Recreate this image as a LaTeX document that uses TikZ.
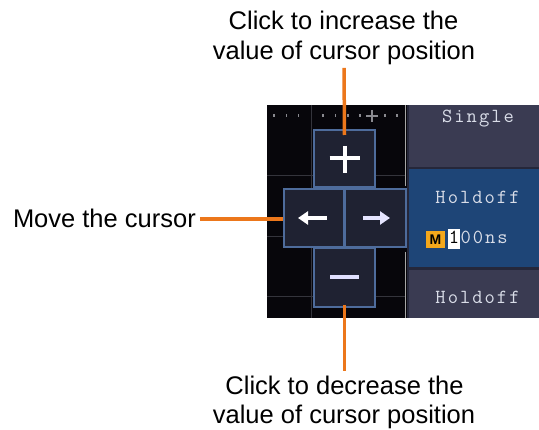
\documentclass[tikz,border=0pt]{standalone}
\usepackage{fontspec}
\setmainfont{Liberation Sans}
\usetikzlibrary{arrows.meta}
\definecolor{orng}{HTML}{EC771B}
\definecolor{scrblack}{HTML}{07060B}
\definecolor{btnfill}{HTML}{1F2232}
\definecolor{btnedge}{HTML}{4E6C9C}
\definecolor{panelgray}{HTML}{3A3B52}
\definecolor{panelblue}{HTML}{1E4577}
\definecolor{panelsep}{HTML}{25273A}
\definecolor{monotext}{HTML}{D9DDE8}
\definecolor{gridc}{HTML}{34343C}
\definecolor{tickc}{HTML}{8A8A90}
\definecolor{mbox}{HTML}{F4A81C}
\newcommand\lsp{\kern2pt}
\tikzset{
  lbl/.style={inner sep=0pt, outer sep=0pt, font=\fontsize{25.5}{30}\selectfont, text=black},
  wire/.style={draw=orng, line width=3.5pt},
  btn/.style={draw=btnedge, fill=btnfill, line width=2pt, inner sep=0pt},
  glyph/.style={draw=white, line width=4pt},
  menutxt/.style={inner sep=0pt, outer sep=0pt, text=monotext, font=\fontsize{20}{22}\selectfont\ttfamily}
}
\begin{document}
\begin{tikzpicture}[x=1pt,y=-1pt]
\useasboundingbox (0,0) rectangle (539,430);
% screen background
\fill[scrblack] (267,105) rectangle (408,318);
% grid lines
\draw[gridc, line width=1pt] (267,176) -- (406,176);
\draw[gridc, line width=1pt] (267,237) -- (406,237);
\draw[gridc, line width=1pt] (267,297) -- (406,297);
\draw[gridc, line width=1pt] (311,105) -- (311,318);
% right edge scroll line
\draw[gray!70, line width=1.5pt] (405.5,105) -- (405.5,186);
\draw[gray!70, line width=1.5pt] (405.5,252) -- (405.5,318);
% top ticks
\foreach \x in {274,286.3,298.6,323.2,335.5,347.8,360.1,384.7,397}
  \fill[tickc] (\x-0.8,114.5) rectangle (\x+0.8,117.5);
\draw[tickc, line width=1.2pt] (366,116) -- (378,116) (372,110) -- (372,122);
% right panel
\fill[panelsep] (407,105) rectangle (539,318);
\fill[panelgray] (409,105) rectangle (539,167);
\fill[panelblue] (409,169) rectangle (539,267);
\fill[panelgray] (409,270) rectangle (539,318);
\node[menutxt, anchor=base] (single) at (478,123) {S\lsp i\lsp n\lsp g\lsp l\lsp e};
\node[menutxt, anchor=base] (hold1) at (477.5,204) {H\lsp o\lsp l\lsp d\lsp o\lsp f\lsp f};
\node[menutxt, anchor=base] (hold2) at (477.5,304) {H\lsp o\lsp l\lsp d\lsp o\lsp f\lsp f};
\fill[mbox] (426,231) rectangle (445,248);
\node[inner sep=0pt, anchor=base, font=\fontsize{14}{16}\selectfont\bfseries, text=black] (mlbl) at (435.5,245) {M};
\fill[white] (448,229) rectangle (460,249);
\node[menutxt, text=black, anchor=base] (one) at (454,244) {1};
\node[menutxt, anchor=base west] (zeros) at (460.5,244) {0\lsp 0\lsp n\lsp s};
% buttons
\node[btn, minimum width=61pt, minimum height=57pt] (plus) at (344.5,158.5) {};
\node[btn, minimum width=60pt, minimum height=58pt] (left) at (314,218) {};
\node[btn, minimum width=61pt, minimum height=58pt] (right) at (375.5,218) {};
\node[btn, minimum width=61pt, minimum height=59pt] (minus) at (344.5,277.5) {};
% glyphs
\draw[glyph] ([xshift=-15pt]plus.center) -- ([xshift=15pt]plus.center);
\draw[glyph] ([yshift=12.5pt]plus.center) -- ([yshift=-14.5pt]plus.center);
\draw[glyph, draw=white!88!blue, line width=4pt] ([xshift=-14.5pt]minus.center) -- ([xshift=14.5pt]minus.center);
\draw[glyph, -{Triangle[width=13pt,length=10pt]}] ([xshift=13pt]left.center) -- ([xshift=-16pt]left.center);
\draw[glyph, draw=white!90!blue, -{Triangle[width=13pt,length=10pt]}] ([xshift=-12.5pt]right.center) -- ([xshift=14.5pt]right.center);
% labels
\node[lbl, anchor=base] (incA) at (343.5,30) {Click to increase the};
\node[lbl, anchor=base] (incB) at (344,60) {value of cursor position};
\node[lbl, anchor=base] (decA) at (344.5,395) {Click to decrease the};
\node[lbl, anchor=base] (decB) at (344,424) {value of cursor position};
\node[lbl, anchor=base west] (mv) at (13,228) {Move the cursor};
% connectors
\draw[wire, shorten <=2.5pt] (incB.south) -- ([yshift=-6pt]plus.north);
\draw[wire, shorten >=6pt] ([yshift=3pt]minus.south) -- (decA.north);
\draw[wire, shorten <=4pt] (mv.east) -- (mv.east -| left.west);
\end{tikzpicture}
\end{document}
